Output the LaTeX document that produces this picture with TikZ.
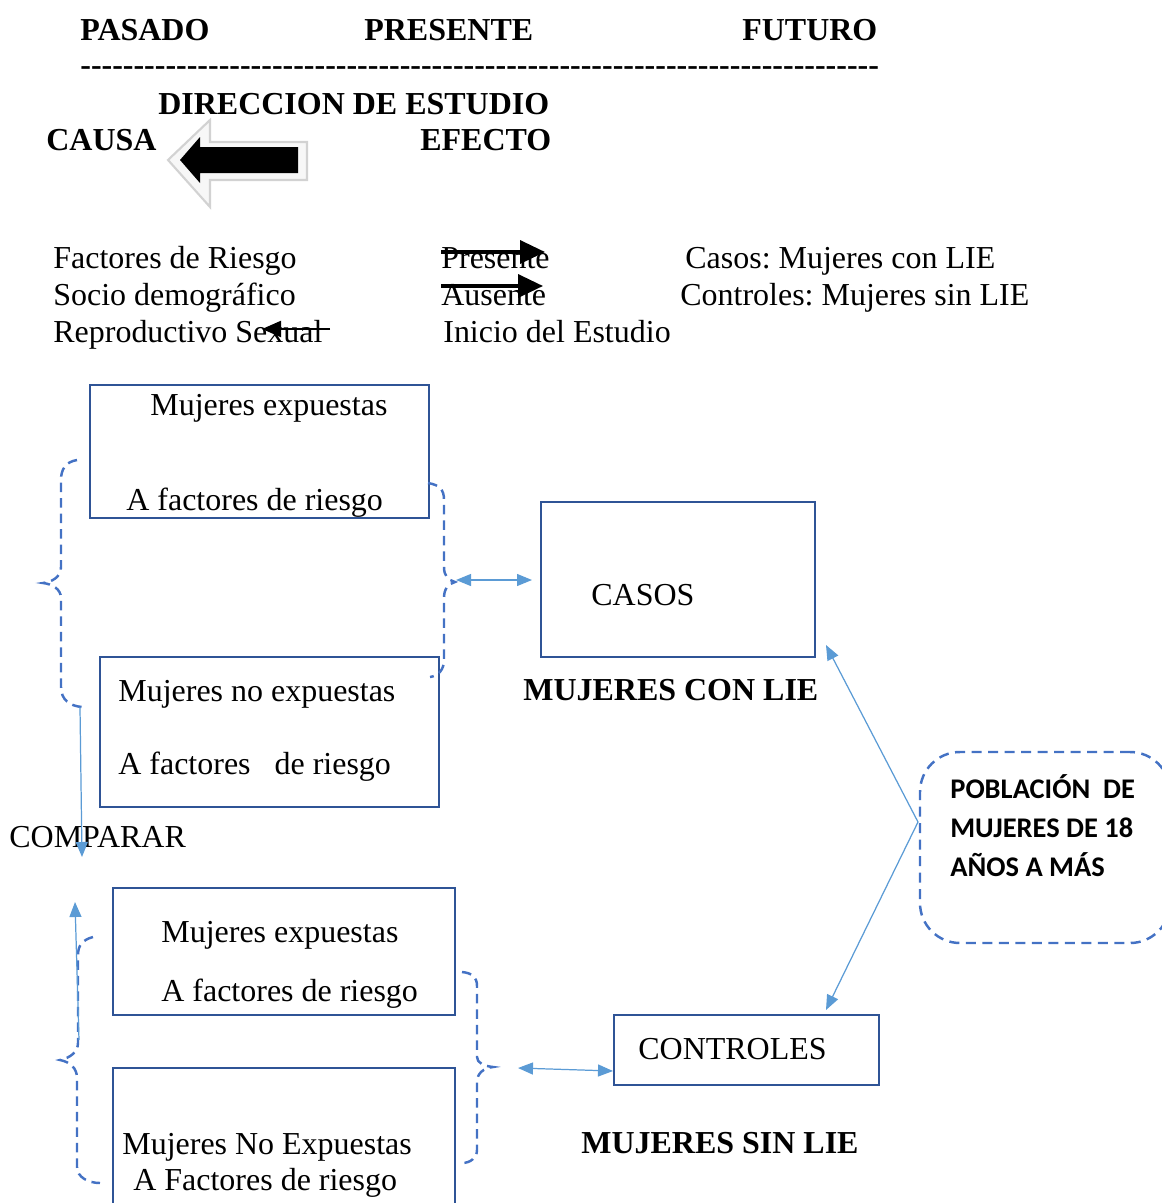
\documentclass[tikz,border=0pt]{standalone}
\usepackage{fontspec}
\setmainfont{Liberation Serif}
\newfontfamily\popfont{Carlito}
\usetikzlibrary{arrows.meta,fit}
\frenchspacing

\definecolor{boxblue}{HTML}{2F5496}
\definecolor{bracblue}{HTML}{4472C4}
\definecolor{linkblue}{HTML}{5B9BD5}

\tikzset{
  txt/.style={anchor=base west,inner sep=0pt,font=\fontsize{18.2}{22}\selectfont},
  btxt/.style={txt,font=\fontsize{18.2}{22}\selectfont\bfseries},
  poptxt/.style={anchor=base west,inner sep=0pt,font=\fontsize{16.2}{19}\selectfont\popfont\bfseries},
  box/.style={draw=boxblue,line width=1.4pt,inner sep=0pt},
  popbox/.style={draw=bracblue,line width=1.4pt,inner sep=0pt,rounded corners=0.8cm,
    dash pattern=on 0.2cm off 0.13cm},
  brace/.style={draw=bracblue,line width=1.4pt,dash pattern=on 0.19cm off 0.12cm},
  link/.style={draw=linkblue,line width=0.7pt,-{Triangle[length=0.3cm,width=0.24cm]}},
  dlink/.style={link,{Triangle[length=0.3cm,width=0.24cm]}-{Triangle[length=0.3cm,width=0.24cm]}},
  bold arrow/.style={line width=2pt,-{Triangle[length=0.5cm,width=0.46cm]}}
}

\begin{document}
\begin{tikzpicture}[x=0.02cm,y=-0.02cm]
\useasboundingbox (0,0) rectangle (1162,1203);
\clip (0,0) rectangle (1162,1203);

% time line
\node[btxt] (pasado) at (80,41) {PASADO};
\node[btxt] (presente) at (364,41) {PRESENTE};
\node[btxt] (futuro) at (742,41) {FUTURO};
\node[btxt] (raya) at (80,76) {\foreach \i in {1,...,75}{-\kern0pt}};

% direction of the study
\node[btxt] (direccion) at (158,114) {DIRECCION DE ESTUDIO};
\node[btxt] (causa) at (46,151) {CAUSA};
\node[btxt] (efecto) at (420,151) {EFECTO};
\filldraw[fill=gray!6,draw=gray!35,line width=1.2pt]
  (168,160) -- (210,120) -- (210,142) -- (307,142) -- (307,180) -- (210,180) -- (210,207) -- cycle;
\fill[black] (180,160) -- (200,137) -- (200,147) -- (298,147) -- (298,173) -- (200,173) -- (200,183) -- cycle;

% legend
\node[txt] (factores) at (53,268) {Factores de Riesgo};
\node[txt] (socio) at (53,305) {Socio demográfico};
\node[txt] (reprod) at (53,342) {Reproductivo Sexual};
\node[txt] (pres) at (441,268) {Presente};
\node[txt] (aus) at (441,305) {Ausente};
\node[txt] (inicio) at (443,342) {Inicio del Estudio};
\node[txt] (casosleg) at (685,268) {Casos: Mujeres con LIE};
\node[txt] (controlesleg) at (680,305) {Controles: Mujeres sin LIE};
\draw[bold arrow] (pres.west |- 0,252) -- (545,252);
\draw[bold arrow] (aus.west |- 0,286) -- (543,286);
\draw[line width=1.2pt,-{Triangle[length=0.38cm,width=0.32cm]}] (330,329) -- (262,329);

% boxes of the cases side
\node[box,fit={(90,385)(429,518)}] (expA) {};
\node[txt] at (150,415) {Mujeres expuestas};
\node[txt] at (126,510) {A factores de riesgo};
\node[box,fit={(100,657)(439,807)}] (noexpA) {};
\node[txt] at (118,701) {Mujeres no expuestas};
\node[txt] at (118,774) {A factores\ \ \ de riesgo};
\node[box,fit={(541,502)(815,657)}] (casos) {};
\node[txt] at (591,605) {CASOS};
\node[btxt] (conlie) at (523,700) {MUJERES CON LIE};

\node[txt] (comparar) at (9,847) {COMPARAR};

% boxes of the controls side
\node[box,fit={(113,888)(455,1015)}] (expB) {};
\node[txt] at (161,942) {Mujeres expuestas};
\node[txt] at (161,1001) {A factores de riesgo};
\node[box,fit={(113,1068)(455,1215)}] (noexpB) {};
\node[txt] at (122,1154) {Mujeres No Expuestas};
\node[txt] at (133,1190) {A Factores de riesgo};
\node[box,fit={(614,1015)(879,1085)}] (controles) {};
\node[txt] at (638,1059) {CONTROLES};
\node[btxt] (sinlie) at (581,1153) {MUJERES SIN LIE};

% population
\node[popbox,fit={(920,752)(1170,943)}] (pob) {};
\node[poptxt] at (950,798) {POBLACIÓN\ \ DE};
\node[poptxt] at (950,837) {MUJERES DE 18};
\node[poptxt] at (950,876) {AÑOS A MÁS};

% braces
\draw[brace] (77,460) .. controls (65,462) and (61,470) .. (61,480) -- (61,567)
  .. controls (61,577) and (52,582) .. (43,583) .. controls (52,584) and (61,589) .. (61,598)
  -- (61,687) .. controls (61,700) and (70,706) .. (82,707);
\draw[brace] (428,483) .. controls (440,485) and (444,490) .. (444,500) -- (444,567)
  .. controls (444,576) and (448,580) .. (455,582) .. controls (448,584) and (444,589) .. (444,598)
  -- (444,660) .. controls (444,670) and (438,676) .. (430,677);
\draw[brace] (93,937) .. controls (82,940) and (78,946) .. (78,955) -- (78,1043)
  .. controls (78,1052) and (70,1058) .. (60,1060) .. controls (70,1062) and (77,1068) .. (77,1078)
  -- (77,1167) .. controls (77,1177) and (88,1183) .. (100,1183);
\draw[brace] (462,972) .. controls (472,973) and (477,977) .. (477,986) -- (477,1057)
  .. controls (477,1063) and (484,1066) .. (493,1067) .. controls (484,1068) and (477,1073) .. (477,1082)
  -- (477,1150) .. controls (477,1158) and (470,1163) .. (462,1163);

% connectors
\coordinate (braA) at (456,580);
\coordinate (casosin) at (532,580);
\coordinate (braB) at (518,1068);
\coordinate (controlesin) at (613,1071);
\coordinate (downtop) at (80,707);
\coordinate (downend) at (82,857);
\coordinate (upstart) at (79,1040);
\coordinate (upend) at (75,902);
\coordinate (pobjoin) at (918,822);
\coordinate (casosend) at (826,645);
\coordinate (controlesend) at (826,1010);

\draw[dlink] (braA) -- (casosin);
\draw[dlink] (braB) -- (controlesin);
\draw[link] (downtop) -- (downend);
\draw[link] (upstart) -- (upend);
\draw[link] (pobjoin) -- (casosend);
\draw[link] (pobjoin) -- (controlesend);

\end{tikzpicture}
\end{document}
